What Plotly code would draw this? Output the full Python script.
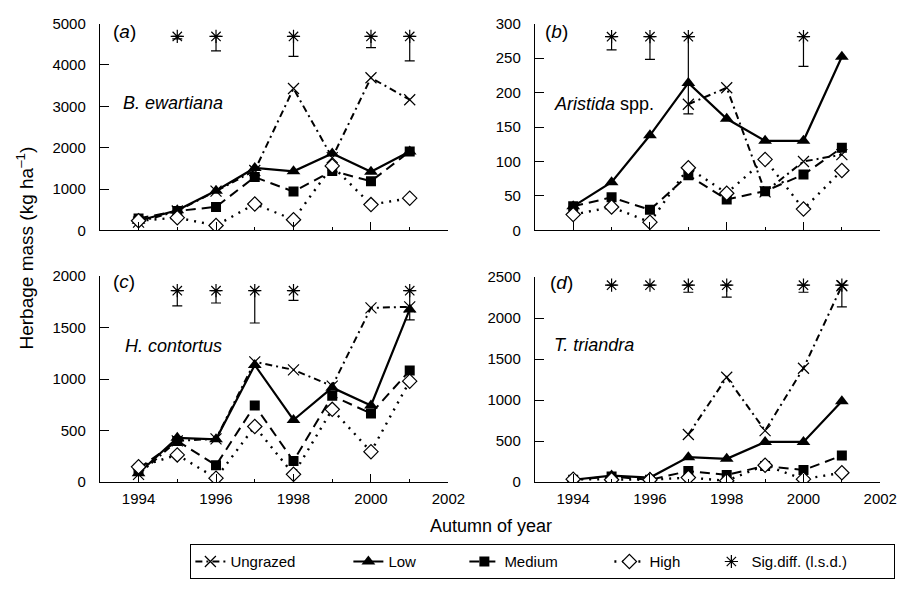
import plotly.graph_objects as go

# ---------------- data ----------------
years = [1994, 1995, 1996, 1997, 1998, 1999, 2000, 2001]

a_ungrazed = [200, 470, 950, 1450, 3430, 1760, 3690, 3160]
a_low = [235, 490, 960, 1510, 1430, 1860, 1420, 1910]
a_medium = [290, 470, 570, 1290, 940, 1440, 1190, 1910]
a_high = [235, 310, 120, 640, 260, 1560, 625, 780]
a_lsd_years = [1995, 1996, 1998, 2000, 2001]
a_lsd_star = [4690, 4690, 4690, 4690, 4690]
a_lsd = [60, 350, 485, 270, 590]

b_ungrazed = [None, None, None, 183, 207, 56, 100, 110]
b_low = [35, 70, 138, 214, 162, 130, 130, 252]
b_medium = [35, 48, 30, 80, 45, 57, 81, 120]
b_high = [23, 34, 12, 91, 54, 103, 31, 87]
b_lsd_years = [1995, 1996, 1997, 2000]
b_lsd_star = [281, 281, 281, 281]
b_lsd = [19, 33, 112, 43]

c_ungrazed = [75, 400, 420, 1168, 1090, 932, 1692, 1702]
c_low = [85, 430, 415, 1137, 603, 917, 744, 1677]
c_medium = [130, 400, 163, 744, 204, 838, 666, 1083]
c_high = [148, 264, 38, 540, 75, 706, 295, 980]
c_lsd_years = [1995, 1996, 1997, 1998, 2001]
c_lsd_star = [1859, 1859, 1859, 1859, 1859]
c_lsd = [148, 120, 314, 94, 283]

d_ungrazed = [None, None, None, 580, 1278, 627, 1388, 2394]
d_low = [28, 79, 55, 304, 284, 489, 489, 986]
d_medium = [28, 67, 28, 134, 87, 197, 146, 323]
d_high = [35, 28, 28, 55, 16, 205, 35, 114]
d_lsd_years = [1995, 1996, 1997, 1998, 2000, 2001]
d_lsd_star = [2401, 2401, 2401, 2401, 2401, 2401]
d_lsd = [0, 0, 86, 145, 86, 264]

panel_letters = ["a", "b", "c", "d"]
species = ["<i>B. ewartiana</i>", "<i>Aristida</i> spp.", "<i>H. contortus</i>", "<i>T. triandra</i>"]
y_ranges = [[0, 5000], [0, 300], [0, 2000], [0, 2500]]
y_dticks = [1000, 50, 500, 500]
series_names = ["Ungrazed", "Low", "Medium", "High", "Sig.diff. (l.s.d.)"]

FONT = "Liberation Sans, Arial, Helvetica, sans-serif"

panels = [
    (a_ungrazed, a_low, a_medium, a_high, a_lsd_years, a_lsd_star, a_lsd),
    (b_ungrazed, b_low, b_medium, b_high, b_lsd_years, b_lsd_star, b_lsd),
    (c_ungrazed, c_low, c_medium, c_high, c_lsd_years, c_lsd_star, c_lsd),
    (d_ungrazed, d_low, d_medium, d_high, d_lsd_years, d_lsd_star, d_lsd),
]

W, H = 910, 594
# panel pixel boxes (left, right, top, bottom)
boxes = [
    (101.7, 457, 15, 228),
    (545, 897, 15, 228),
    (101.7, 457, 275, 487),
    (545, 897, 276, 487),
]

fig = go.Figure()

styles = {
    "Ungrazed": dict(line=dict(color="black", width=2, dash="7px,4px,2px,4px"),
                     marker=dict(symbol="x-thin-open", size=11, color="black",
                                 line=dict(color="black", width=1.2))),
    "Low": dict(line=dict(color="black", width=2.2),
                marker=dict(symbol="triangle-up", size=12, color="black")),
    "Medium": dict(line=dict(color="black", width=2, dash="10px,6px"),
                   marker=dict(symbol="square", size=10, color="black")),
    "High": dict(line=dict(color="black", width=2.4, dash="2px,6px"),
                 marker=dict(symbol="diamond", size=11, color="white",
                             line=dict(color="black", width=1.2))),
}
legend_widths = [113, 71, 100, 57, 138]

for i, (ung, low, med, high, lyears, lstar, lsd) in enumerate(panels):
    ax = "" if i == 0 else str(i + 1)
    xa, ya = "x" + ax, "y" + ax
    for j, (name, vals) in enumerate(zip(series_names[:4], [ung, low, med, high])):
        fig.add_trace(go.Scatter(
            x=years, y=vals, mode="lines+markers", name=name,
            xaxis=xa, yaxis=ya, showlegend=(i == 0), legendgroup=name,
            legendwidth=legend_widths[j], connectgaps=False,
            **styles[name]))
    fig.add_trace(go.Scatter(
        x=lyears, y=lstar, mode="markers", name=series_names[4],
        xaxis=xa, yaxis=ya, showlegend=(i == 0), legendgroup="sig",
        legendwidth=legend_widths[4],
        marker=dict(symbol="asterisk-open", size=11, color="black",
                    line=dict(color="black", width=1.2)),
        error_y=dict(type="data", symmetric=False, array=[0] * len(lsd),
                     arrayminus=lsd, color="black", thickness=1.2, width=5)))

    l, r, t, b = boxes[i]
    xdom = [l / W, r / W]
    ydom = [(H - b) / H, (H - t) / H]
    bottom = i >= 2
    fig.layout["xaxis" + ax] = dict(
        domain=xdom, anchor=ya, range=[1993, 2002], tick0=1994, dtick=2,
        ticks="inside", ticklen=8, tickwidth=1, tickcolor="black",
        showline=True, linecolor="black", linewidth=1, showgrid=False,
        zeroline=False, showticklabels=bottom, ticklabelstandoff=3,
        tickfont=dict(family=FONT, size=15, color="black"),
        minor=dict(ticks="inside", ticklen=3, tick0=1993, dtick=1, tickcolor="black"))
    fig.layout["yaxis" + ax] = dict(
        domain=ydom, anchor=xa, range=y_ranges[i], dtick=y_dticks[i],
        ticks="inside", ticklen=9, tickwidth=1, tickcolor="black",
        showline=True, linecolor="black", linewidth=1, showgrid=False,
        zeroline=False, ticklabelstandoff=10,
        tickfont=dict(family=FONT, size=15, color="black"))

    # panel letter and species name
    lab_pos = [(0.032, 0.962, 0.06, 0.615), (0.023, 0.962, 0.051, 0.61),
               (0.032, 0.976, 0.066, 0.66), (0.037, 0.973, 0.051, 0.67)][i]
    fig.add_annotation(text="(<i>%s</i>)" % panel_letters[i], xref=xa + " domain",
                       yref=ya + " domain", x=lab_pos[0], y=lab_pos[1],
                       xanchor="left", yanchor="middle", showarrow=False,
                       font=dict(family=FONT, size=19, color="black"))
    fig.add_annotation(text=species[i], xref=xa + " domain", yref=ya + " domain",
                       x=lab_pos[2], y=lab_pos[3], xanchor="left", yanchor="middle",
                       showarrow=False, font=dict(family=FONT, size=18, color="black"))

fig.add_annotation(text="Herbage mass (kg ha<sup>–1</sup>)", xref="paper", yref="paper",
                   x=25 / W, y=(H - 246) / H, textangle=-90, showarrow=False,
                   xanchor="center", yanchor="middle",
                   font=dict(family=FONT, size=19, color="black"))
fig.add_annotation(text="Autumn of year", xref="paper", yref="paper",
                   x=500 / W, y=(H - 532) / H, showarrow=False,
                   xanchor="center", yanchor="middle",
                   font=dict(family=FONT, size=18, color="black"))

fig.update_layout(
    width=W, height=H, margin=dict(l=0, r=0, t=0, b=0),
    paper_bgcolor="white", plot_bgcolor="white",
    font=dict(family=FONT, color="black"),
    legend=dict(orientation="h", x=194 / W, y=(H - 551) / H, xanchor="left",
                yanchor="top", bordercolor="black", borderwidth=1,
                font=dict(family=FONT, size=15, color="black"),
                itemwidth=30, bgcolor="white"),
)

fig.write_html("out.html", config={"displayModeBar": False},
               post_script="document.body.style.margin='0px';")
